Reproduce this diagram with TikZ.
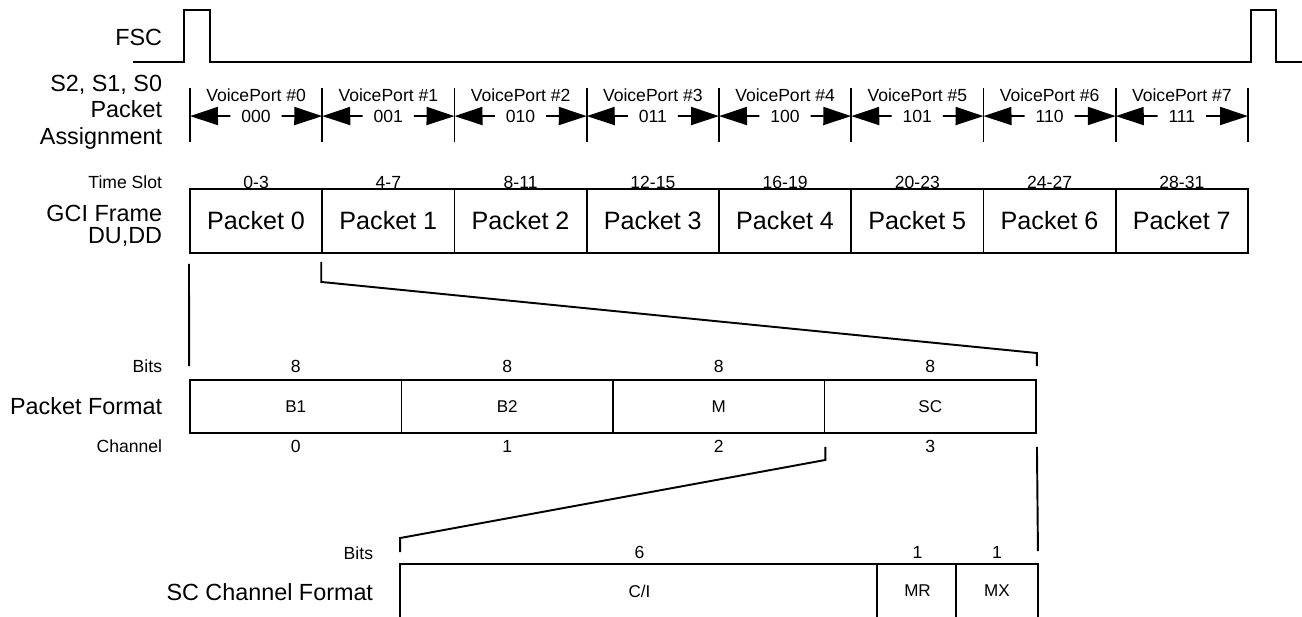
\documentclass[tikz,border=0pt]{standalone}
\usepackage{fontspec}
\setmainfont{Liberation Sans}
\usetikzlibrary{positioning,arrows.meta}

\tikzset{
  bigtxt/.style={font=\fontsize{13.3pt}{15.2pt}\selectfont},
  smalltxt/.style={font=\fontsize{10pt}{11pt}\selectfont},
  rowlabel/.style={anchor=east,inner sep=0pt,align=right},
  slotcell/.style={draw,font=\fontsize{14.3pt}{16pt}\selectfont,minimum width=2.645cm,minimum height=1.28cm,inner sep=0pt},
  pktcell/.style={draw,font=\fontsize{9.7pt}{11pt}\selectfont,minimum width=4.23cm,minimum height=1.06cm,inner sep=0pt},
  bitcell/.style={font=\fontsize{9.7pt}{11pt}\selectfont,minimum height=1.04cm,inner sep=0pt},
  port/.style={-{Triangle[length=0.56cm,width=0.36cm]}},
}

\begin{document}
\begin{tikzpicture}[x=0.02cm,y=-0.02cm,line width=1.1pt]
\useasboundingbox (0,0) rectangle (1302,617);

% frame sync and port assignment
\node[bigtxt,rowlabel] (fsc) at (163,37) {FSC};
\draw (133,62) -- (184,62) |- (210,10) |- (1251,62) |- (1276,10) |- (1302,62);
\node[bigtxt,rowlabel] (assign) at (163,112) {S2, S1, S0\\Packet\\Assignment};
\foreach \i in {0,...,8}
  \draw (190+132.25*\i,88) -- (190+132.25*\i,142) coordinate[pos=0.52] (mid\i);
\foreach \i/\code in {0/000,1/001,2/010,3/011,4/100,5/101,6/110,7/111} {
  \pgfmathtruncatemacro\j{\i+1}
  \node[smalltxt] (vp\i) at (256.1+132.25*\i,95) {VoicePort \#\i};
  \node[smalltxt,inner xsep=0.2cm] (code\i) at (256.1+132.25*\i,116) {\code};
  \draw[port] (code\i.west) -- (mid\i);
  \draw[port] (code\i.east) -- (mid\j);
}

% GCI frame
\node[smalltxt,rowlabel] (tslabel) at (163,182) {Time Slot};
\node[bigtxt,rowlabel] (gci) at (163,226) {GCI Frame\\[-3pt]DU,DD};
\foreach \i/\lab in {0/0-3,1/4-7,2/8-11,3/12-15,4/16-19,5/20-23,6/24-27,7/28-31} {
  \node[smalltxt] (ts\i) at (256.1+132.25*\i,182) {\lab};
  \node[slotcell] (p\i) at (256.1+132.25*\i,221) {Packet \i};
}

% packet format
\node[smalltxt,rowlabel] (bitslabel) at (163,366) {Bits};
\node[bigtxt,rowlabel] (pktlabel) at (163,406) {Packet Format};
\node[smalltxt,rowlabel] (chlabel) at (163,446) {Channel};
\foreach \n/\lab [count=\i from 0] in {b1/B1,b2/B2,m/M,sc/SC} {
  \node[pktcell] (\n) at (295.75+211.5*\i,406.5) {\lab};
  \node[smalltxt] (bits\n) at (295.75+211.5*\i,366) {8};
  \node[smalltxt] (ch\n) at (295.75+211.5*\i,446) {\i};
}
\draw ([yshift=-0.2cm]p0.south west) -- ([yshift=0.26cm]b1.north west);
\draw ([yshift=-0.16cm]p1.south west) -- ++(0,20) -- ([yshift=0.52cm]sc.north east) -- ([yshift=0.26cm]sc.north east);

% SC channel format
\node[smalltxt,rowlabel] (scbits) at (374,553) {Bits};
\node[bigtxt,rowlabel] (sclabel) at (374,592) {SC Channel Format};
\node[bitcell,minimum width=9.54cm] (ci) at (639.5,591) {C/I};
\node[bitcell,minimum width=1.58cm] (mr) at (917.5,591) {MR};
\node[bitcell,minimum width=1.6cm] (mx) at (997,591) {MX};
\node[smalltxt] (bitsci) at (639.5,552) {6};
\node[smalltxt] (bitsmr) at (917.5,552) {1};
\node[smalltxt] (bitsmx) at (997,552) {1};
\draw (ci.south west) |- (mx.north east) -- (mx.south east);
\draw (mr.south west) -- (mr.north west) (mx.south west) -- (mx.north west);
\draw ([yshift=-0.26cm]m.south east) -- ++(0,13) -- ([yshift=0.52cm]ci.north west) -- ([yshift=0.24cm]ci.north west);
\draw ([yshift=-0.26cm]sc.south east) -- ([yshift=0.26cm]mx.north east);
\end{tikzpicture}
\end{document}
